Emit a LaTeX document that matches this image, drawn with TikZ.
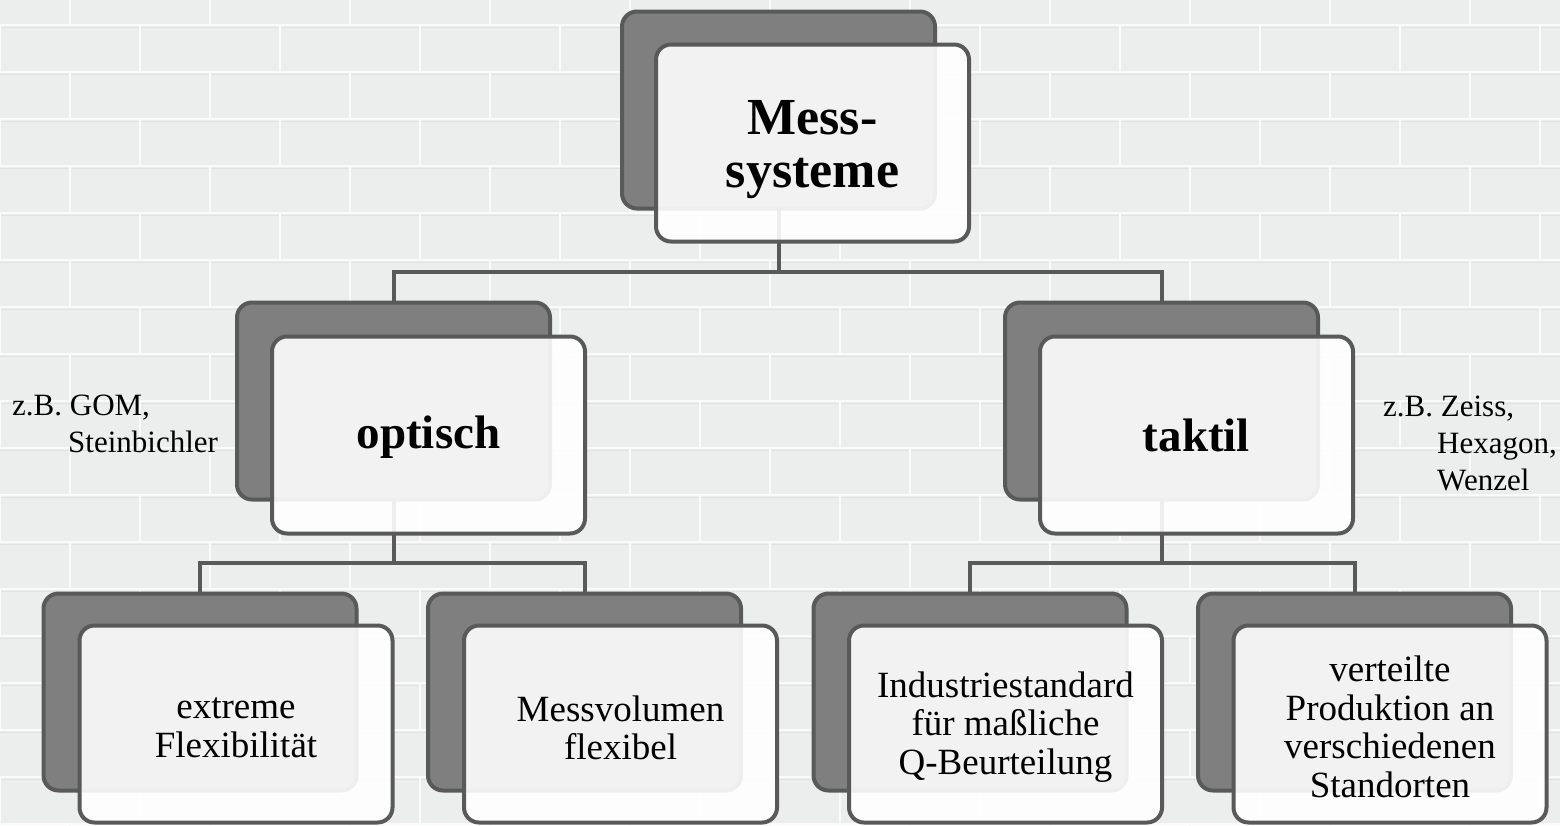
\documentclass[tikz,border=0pt]{standalone}
\usepackage{fontspec}
\setmainfont{Liberation Serif}
\usetikzlibrary{calc}
\definecolor{edge}{HTML}{595959}
\definecolor{backfill}{HTML}{7F7F7F}
\definecolor{wall}{HTML}{ECEEEE}
\definecolor{mortar}{HTML}{FAFAFA}
\definecolor{shade}{HTML}{E0E2E2}
\pgfdeclarelayer{bg}
\pgfsetlayers{bg,main}
\tikzset{
  backbox/.style={draw=edge, fill=backfill, line width=4pt, rounded corners=15pt,
    minimum width=313pt, minimum height=197pt, inner sep=0pt},
  frontbox/.style={draw=edge, fill=white, fill opacity=0.9,
    line width=4pt, rounded corners=15pt, minimum width=313pt, minimum height=197pt,
    inner sep=0pt},
  boxtext/.style={inner sep=0pt, align=center, text=black},
  conn/.style={draw=edge, line width=4pt},
  sidelbl/.style={inner sep=0pt, align=left, font=\fontsize{31pt}{37pt}\selectfont},
  bigtxt/.style={boxtext, font=\fontsize{52pt}{53pt}\selectfont\bfseries},
  midtxt/.style={boxtext, font=\fontsize{47pt}{50pt}\selectfont\bfseries},
  smalltxt/.style={boxtext, font=\fontsize{37pt}{38.5pt}\selectfont},
  mortarline/.style={draw=mortar, line width=2.5pt},
  shadeline/.style={draw=shade, line width=1pt},
}
\begin{document}
\begin{tikzpicture}[x=1pt,y=-1pt]
\useasboundingbox (0,0) rectangle (1560,825);

% top
\node[backbox] (tB) at (778.5,110) {};
\node[frontbox] (tF) at (812.5,143) {};
\node[bigtxt] (tT) at ($(tF.center)+(0,7)$) {Mess-\\systeme};

% middle
\node[backbox] (oB) at (393.5,401) {};
\node[frontbox] (oF) at (428.5,435) {};
\node[midtxt] (oT) at ($(oF.center)+(0,2)$) {optisch};
\node[backbox] (kB) at (1161.5,401) {};
\node[frontbox] (kF) at (1196.5,435) {};
\node[midtxt] (kT) at ($(kF.center)+(0,0)$) {taktil};

% bottom
\node[backbox] (aB) at (200,692) {};
\node[frontbox] (aF) at (236,724) {};
\node[smalltxt] (aT) at ($(aF.center)+(0,4)$) {extreme\\Flexibilität};
\node[backbox] (bB) at (584.5,692) {};
\node[frontbox] (bF) at (620.5,724) {};
\node[smalltxt] (bT) at ($(bF.center)+(0,4)$) {Messvolumen\\flexibel};
\node[backbox] (cB) at (970,692) {};
\node[frontbox] (cF) at (1005.5,724) {};
\node[smalltxt] (cT) at ($(cF.center)+(0,3)$) {Industriestandard\\für maßliche\\Q-Beurteilung};
\node[backbox] (dB) at (1354.5,692) {};
\node[frontbox] (dF) at (1390,724) {};
\node[smalltxt] (dT) at ($(dF.center)+(0,3)$) {verteilte\\Produktion an\\verschiedenen\\Standorten};

% side labels
\node[sidelbl, anchor=north west] (sl) at (12,395) {z.B. GOM,\\\hspace*{56pt}Steinbichler};
\node[sidelbl, anchor=north west] (sr) at (1383,396) {z.B. Zeiss,\\\hspace*{54pt}Hexagon,\\\hspace*{54pt}Wenzel};

\begin{pgfonlayer}{bg}
  \fill[wall] (0,0) rectangle (1560,825);
  \begin{scope}
    \clip (0,0) rectangle (1560,825);
    \foreach \r in {-1,...,17}{
      \pgfmathsetmacro{\ya}{25+47*\r}
      \pgfmathsetmacro{\yb}{\ya+47}
      \pgfmathsetmacro{\off}{mod(\r+2,2)*70}
      \draw[shadeline] (0,\ya+2.5) -- (1560,\ya+2.5);
      \draw[mortarline] (0,\ya) -- (1560,\ya);
      \foreach \k in {-1,...,11}{
        \draw[mortarline] ({\off+140*\k},\ya) -- ({\off+140*\k},\yb);
      }
    }
  \end{scope}
  \coordinate (j0) at (778.5,272);
  \coordinate (j1) at (393.5,563);
  \coordinate (j2) at (1161.5,563);
  \draw[conn] (tB.center) -- (tB.center |- j0) -| (oB.north);
  \draw[conn] (tB.center |- j0) -| (kB.north);
  \draw[conn] (oB.center) -- (oB.center |- j1) -| (aB.north);
  \draw[conn] (oB.center |- j1) -| (bB.north);
  \draw[conn] (kB.center) -- (kB.center |- j2) -| (cB.north);
  \draw[conn] (kB.center |- j2) -| (dB.north);
\end{pgfonlayer}
\end{tikzpicture}
\end{document}
